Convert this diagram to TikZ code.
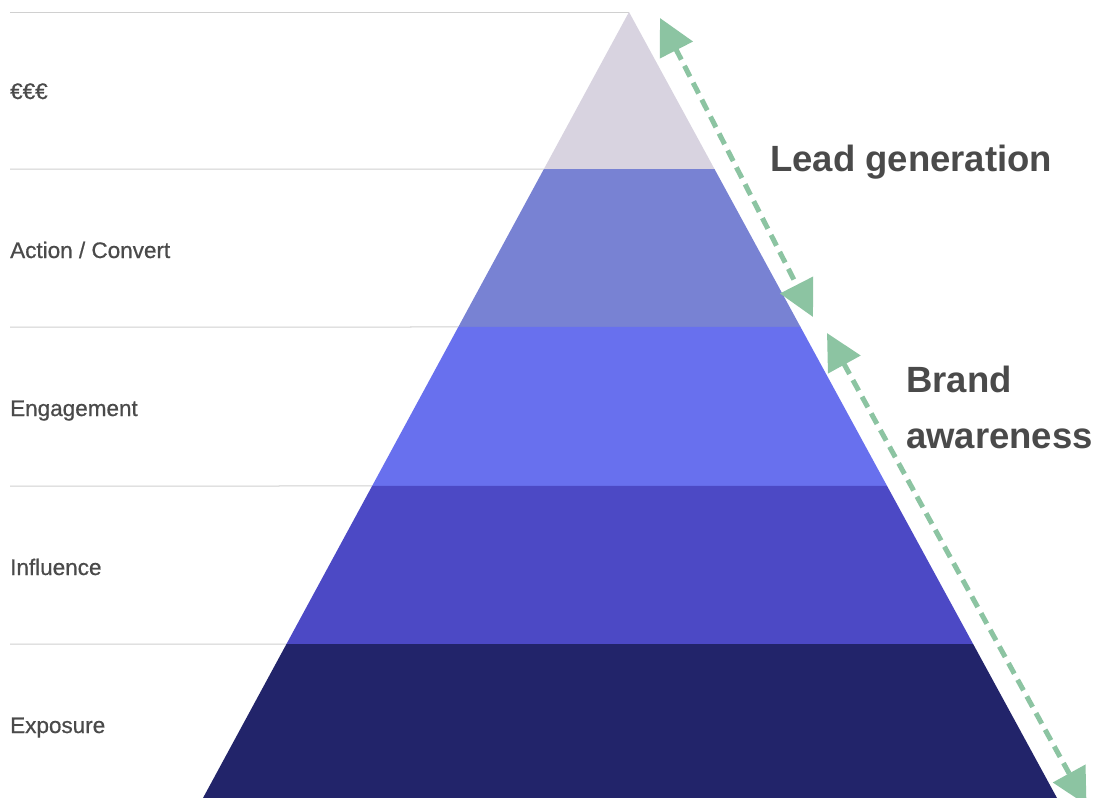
\documentclass[tikz,border=0pt]{standalone}
\usepackage{fontspec}
\setmainfont{Liberation Sans}
\newfontfamily\labelfont[FakeBold=0.6]{Liberation Sans}
\usetikzlibrary{calc,arrows.meta}
\definecolor{tierA}{HTML}{D8D3E0}
\definecolor{tierB}{HTML}{7882D3}
\definecolor{tierC}{HTML}{6870EE}
\definecolor{tierD}{HTML}{4C49C5}
\definecolor{tierE}{HTML}{22246A}
\definecolor{guide}{HTML}{D0D0D0}
\definecolor{labelgray}{HTML}{4A4A4A}
\definecolor{arrowgreen}{HTML}{8CC4A2}
\tikzset{
  rowlabel/.style={anchor=base west, inner sep=0pt, text=labelgray,
    font=\labelfont\fontsize{22.5}{26}\selectfont},
  biglabel/.style={anchor=base west, inner sep=0pt, text=labelgray,
    font=\fontsize{36.5}{56}\selectfont\bfseries},
  guideline/.style={draw=guide, line width=1pt},
  span/.style={draw=arrowgreen, line width=5pt, dash pattern=on 12pt off 7pt,
    {Triangle[length=36pt,width=36pt]}-{Triangle[length=36pt,width=36pt]}},
}
\begin{document}
\begin{tikzpicture}[x=1pt,y=-1pt]
\useasboundingbox (0,0) rectangle (1098,798);
\clip (0,0) rectangle (1098,798);
\fill[white] (0,0) rectangle (1098,798);

% pyramid outline
\coordinate (apex) at (629,12);
\coordinate (bl) at (203,798);
\coordinate (br) at (1057,798);

% tier boundaries along both sides
\coordinate (l1) at ($(apex)!0.19975!(bl)$);
\coordinate (r1) at ($(apex)!0.19975!(br)$);
\coordinate (l2) at ($(apex)!0.40076!(bl)$);
\coordinate (r2) at ($(apex)!0.40076!(br)$);
\coordinate (l3) at ($(apex)!0.60305!(bl)$);
\coordinate (r3) at ($(apex)!0.60305!(br)$);
\coordinate (l4) at ($(apex)!0.80407!(bl)$);
\coordinate (r4) at ($(apex)!0.80407!(br)$);

% guide lines to the left of the pyramid
\draw[guideline] (10,12) -- (apex);
\draw[guideline] (10,169) -- (l1);
\draw[guideline] (10,327) -- (l2);
\draw[guideline] (10,486) -- (l3);
\draw[guideline] (10,644) -- (l4);

% tiers
\fill[tierA] (apex) -- (r1) -- (l1) -- cycle;
\fill[tierB] (l1) -- (r1) -- (r2) -- (l2) -- cycle;
\fill[tierC] (l2) -- (r2) -- (r3) -- (l3) -- cycle;
\fill[tierD] (l3) -- (r3) -- (r4) -- (l4) -- cycle;
\fill[tierE] (l4) -- (r4) -- (br) -- (bl) -- cycle;

% tier labels
\node[rowlabel] (eur) at (10,99) {€€€};
\node[rowlabel] (act) at (10,258) {Action / Convert};
\node[rowlabel] (eng) at (10,416) {Engagement};
\node[rowlabel] (inf) at (10,575) {Influence};
\node[rowlabel] (exp) at (10,733) {Exposure};

% stage spans
\coordinate (leadTop) at (660,18);
\coordinate (leadBot) at (813,317);
\coordinate (brandTop) at (827,333);
\coordinate (brandBot) at (1086.5,805);
\draw[span] (leadTop) -- (leadBot);
\draw[span] (brandTop) -- (brandBot);

\node[biglabel] (lead) at (770,171) {Lead generation};
\node[biglabel] (brand) at (906,392) {Brand};
\node[biglabel] (aware) at (906,448) {awareness};
\end{tikzpicture}
\end{document}
